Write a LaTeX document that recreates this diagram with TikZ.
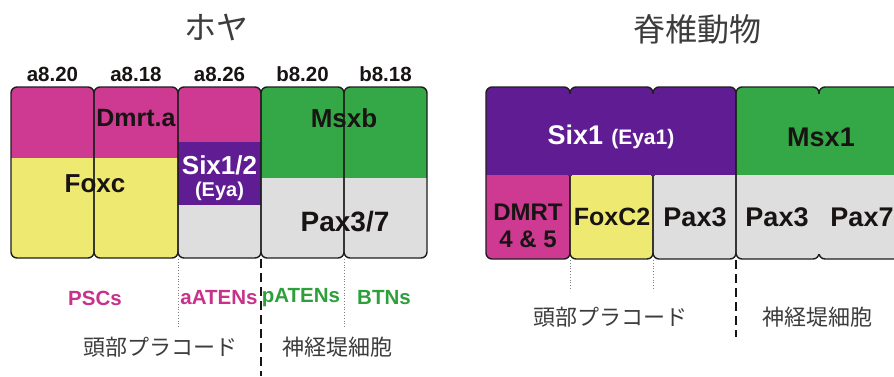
\documentclass[tikz,border=0pt]{standalone}
\usepackage{fontspec}
\setmainfont{Liberation Sans}
\newfontfamily\jp{Noto Sans CJK JP}
\definecolor{mag}{RGB}{206,58,145}
\definecolor{yel}{RGB}{238,233,112}
\definecolor{purp}{RGB}{96,28,146}
\definecolor{grn}{RGB}{52,168,70}
\definecolor{gry}{RGB}{222,222,222}
\definecolor{edge}{RGB}{30,30,30}
\definecolor{ink}{RGB}{25,20,20}
\definecolor{jpgray}{RGB}{60,60,60}
\definecolor{magtxt}{RGB}{200,50,140}
\definecolor{grntxt}{RGB}{45,160,60}
\newcommand\fs[1]{\fontsize{#1}{#1}\selectfont}
\begin{document}
\begin{tikzpicture}[x=1pt,y=-1pt,
  cell/.style={draw=edge,line width=1.4pt,rounded corners=6pt},
  gene/.style={font=\bfseries, text=ink, inner sep=0pt},
  lab/.style={font=\bfseries\fs{20.5}, text=ink, inner sep=0pt},
  tag/.style={font=\bfseries\fs{20.5}, inner sep=0pt},
  jptxt/.style={font=\jp\fs{22}, text=jpgray, inner sep=0pt},
  title/.style={font=\jp\fs{32}, text=jpgray, inner sep=0pt},
  dotline/.style={draw=gray, line width=0.8pt, dotted},
  dashline/.style={draw=ink, line width=2.6pt, dash pattern=on 9pt off 5pt}]
\useasboundingbox (0,0) rectangle (894,376);
\clip (0,0) rectangle (894,376);
\fill[white] (0,0) rectangle (894,376);

% titles
\node[title] (t1) at (216,27) {ホヤ};
\node[title] (t2) at (697,29) {脊椎動物};

% ---------- left panel ----------
\begin{scope}
\clip[rounded corners=6pt] (11,87) rectangle (94,258) (94,87) rectangle (178,258)
  (178,87) rectangle (261,258) (261,87) rectangle (344,258) (344,87) rectangle (427,258);
\fill[mag] (0,80) rectangle (178,158);
\fill[yel] (0,158) rectangle (178,270);
\fill[mag] (178,80) rectangle (261,142);
\fill[purp] (178,142) rectangle (261,205);
\fill[gry] (178,205) rectangle (261,270);
\fill[grn] (261,80) rectangle (440,178);
\fill[gry] (261,178) rectangle (440,270);
\end{scope}
\draw[cell] (11,87) rectangle (94,258);
\draw[cell] (94,87) rectangle (178,258);
\draw[cell] (178,87) rectangle (261,258);
\draw[cell] (261,87) rectangle (344,258);
\draw[cell] (344,87) rectangle (427,258);

\node[lab] (a820) at (52.5,74) {a8.20};
\node[lab] (a818) at (136,74) {a8.18};
\node[lab] (a826) at (219.5,74) {a8.26};
\node[lab] (b820) at (302.5,74) {b8.20};
\node[lab] (b818) at (385.5,74) {b8.18};

\node[gene,font=\bfseries\fs{25}] (dmrta) at (136,118) {Dmrt.a};
\node[gene,font=\bfseries\fs{26}] (foxc) at (95,184) {Foxc};
\node[gene,font=\bfseries\fs{26},text=white] (six12) at (219.5,165) {Six1/2};
\node[gene,font=\bfseries\fs{20},text=white] (eya) at (219.5,191) {(Eya)};
\node[gene,font=\bfseries\fs{26}] (msxb) at (344,118) {Msxb};
\node[gene,font=\bfseries\fs{28}] (pax37) at (345,222) {Pax3/7};

\coordinate (l1a) at (178,259); \coordinate (l1b) at (178,327);
\coordinate (l2a) at (261,259); \coordinate (l2b) at (261,376);
\coordinate (l3a) at (344,259); \coordinate (l3b) at (344,327);
\draw[dotline] (l1a) -- (l1b);
\draw[dashline] (l2a) -- (l2b);
\draw[dotline] (l3a) -- (l3b);

\node[tag,text=magtxt] (pscs) at (95,298) {PSCs};
\node[tag,text=magtxt] (aatens) at (219,298) {aATENs};
\node[tag,text=grntxt] (patens) at (301,298) {pATENs};
\node[tag,text=grntxt] (btns) at (384,298) {BTNs};

\node[jptxt] (jp1) at (160,347) {頭部プラコード};
\node[jptxt] (jp2) at (337,347) {神経堤細胞};

% ---------- right panel ----------
\begin{scope}
\clip[rounded corners=6pt] (486,87) rectangle (570,259) (570,87) rectangle (653,259)
  (653,87) rectangle (736,259) (736,87) rectangle (819,259) (819,87) rectangle (902,259);
\fill[purp] (480,80) rectangle (736,175);
\fill[grn] (736,80) rectangle (910,175);
\fill[mag] (480,175) rectangle (570,270);
\fill[yel] (570,175) rectangle (653,270);
\fill[gry] (653,175) rectangle (910,270);
\end{scope}
\draw[cell] (486,87) rectangle (570,259);
\draw[cell] (570,87) rectangle (653,259);
\draw[cell] (653,87) rectangle (736,259);
\draw[cell] (736,87) rectangle (819,259);
\draw[cell] (819,87) rectangle (902,259);
% hide inner dividers
\fill[purp] (568,93.5) rectangle (572,175.5);
\fill[purp] (651,93.5) rectangle (655,175.5);
\fill[grn] (817,93.5) rectangle (821,175.5);
\fill[gry] (817,175) rectangle (821,253.5);

\node[gene,text=white] (six1) at (611,137) {{\fs{27}Six1}\hspace{8pt}{\fs{21}(Eya1)}};
\node[gene,font=\bfseries\fs{27}] (msx1) at (821,137) {Msx1};
\node[gene,font=\bfseries\fs{24}] (dmrt) at (528,212) {DMRT};
\node[gene,font=\bfseries\fs{24}] (d45) at (528,239) {4 \& 5};
\node[gene,font=\bfseries\fs{25}] (foxc2) at (612,217) {FoxC2};
\node[gene,font=\bfseries\fs{27}] (pax3a) at (695,217) {Pax3};
\node[gene,font=\bfseries\fs{27}] (pax3b) at (777,217) {Pax3};
\node[gene,font=\bfseries\fs{27}] (pax7) at (862,217) {Pax7};

\coordinate (r1a) at (570,260); \coordinate (r1b) at (570,290);
\coordinate (r2a) at (653,260); \coordinate (r2b) at (653,290);
\coordinate (r3a) at (736,260); \coordinate (r3b) at (736,337);
\draw[dotline] (r1a) -- (r1b);
\draw[dotline] (r2a) -- (r2b);
\draw[dashline] (r3a) -- (r3b);

\node[jptxt] (jp3) at (610,317) {頭部プラコード};
\node[jptxt] (jp4) at (817,317) {神経堤細胞};
\end{tikzpicture}
\end{document}
